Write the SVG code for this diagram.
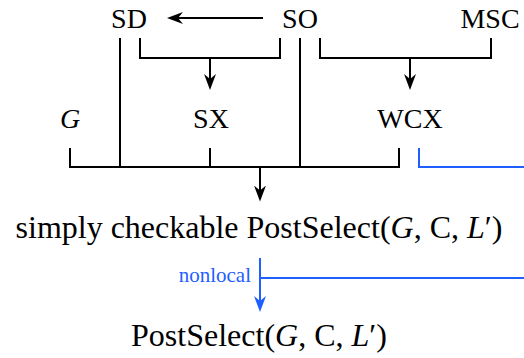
<svg xmlns="http://www.w3.org/2000/svg" width="524" height="358" viewBox="0 0 524 358">
<style>
.t{font-family:"Liberation Serif","Times New Roman",serif;fill:#000;text-anchor:middle}
.lab{font-size:28px}
.big{font-size:32px}
.it{font-style:italic}
.k{fill:none;stroke:#000;stroke-width:2}
.b{fill:none;stroke:#1f5fff;stroke-width:2}
.bt{font-family:"Liberation Serif","Times New Roman",serif;font-size:21px;fill:#1f5fff;text-anchor:end}
</style>
<defs>
<marker id="ak" viewBox="-16 -6 16 12" refX="-10" refY="0" markerWidth="16" markerHeight="12" markerUnits="userSpaceOnUse" orient="auto">
<path d="M0,0 L-16,-6 L-11,0 L-16,6 Z" fill="#000"/>
</marker>
<marker id="ab" viewBox="-16 -6 16 12" refX="-10" refY="0" markerWidth="16" markerHeight="12" markerUnits="userSpaceOnUse" orient="auto">
<path d="M0,0 L-16,-6 L-11,0 L-16,6 Z" fill="#1f5fff"/>
</marker>
</defs>
<g id="connectors">
<line class="k" x1="263" y1="18" x2="177" y2="18" marker-end="url(#ak)"/>
<path class="k" d="M140,38 V58 H280 V38"/>
<line class="k" x1="210" y1="58" x2="210" y2="80" marker-end="url(#ak)"/>
<path class="k" d="M320,38 V58 H491 V38"/>
<line class="k" x1="410" y1="58" x2="410" y2="80" marker-end="url(#ak)"/>
<path class="k" d="M120,38 V167"/>
<path class="k" d="M300,38 V167"/>
<path class="k" d="M70,148 V167 H399 V148"/>
<path class="k" d="M210,148 V167"/>
<line class="k" x1="260" y1="167" x2="260" y2="191.5" marker-end="url(#ak)"/>
<path class="b" d="M419,148 V167 H524"/>
<path class="b" d="M260,278 H524"/>
<line class="b" x1="260" y1="258" x2="260" y2="302" marker-end="url(#ab)"/>
<text class="bt" x="251" y="282">nonlocal</text>
</g>
<g id="SD"><text class="t lab" x="129" y="28">SD</text></g>
<g id="SO"><text class="t lab" x="300" y="28">SO</text></g>
<g id="MSC"><text class="t lab" x="490" y="28">MSC</text></g>
<g id="G"><text class="t lab it" x="70" y="128">G</text></g>
<g id="SX"><text class="t lab" x="211" y="128">SX</text></g>
<g id="WCX"><text class="t lab" x="410" y="128">WCX</text></g>
<g id="simply"><text class="t big" x="259" y="238">simply checkable PostSelect(<tspan class="it">G</tspan>, C, <tspan class="it">L</tspan>′)</text></g>
<g id="postselect"><text class="t big" x="259" y="346">PostSelect(<tspan class="it">G</tspan>, C, <tspan class="it">L</tspan>′)</text></g>
</svg>
